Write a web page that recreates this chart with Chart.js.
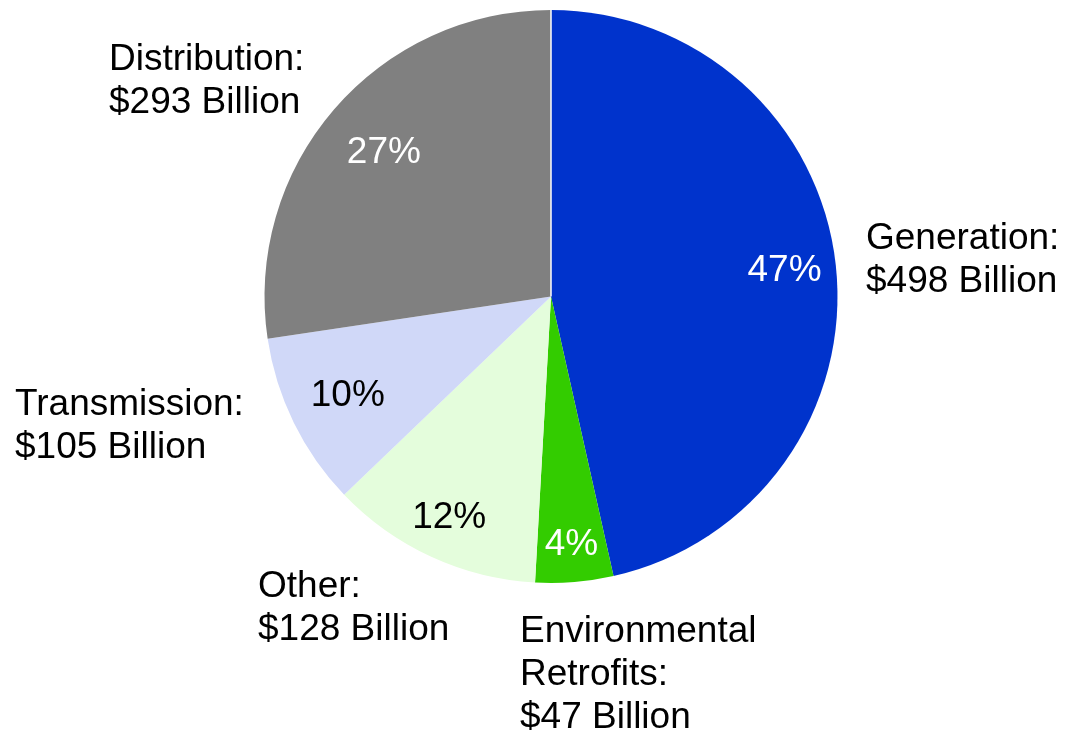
<!DOCTYPE html>
<html>
<head>
<meta charset="utf-8">
<title>Electricity Investment by Segment</title>
<script src="https://cdn.jsdelivr.net/npm/chart.js@4/dist/chart.umd.min.js"></script>
<style>
  html, body { margin: 0; padding: 0; background: #ffffff; }
  #wrap { width: 1067px; height: 737px; position: relative; }
</style>
</head>
<body>
<div id="wrap"><canvas id="pie"></canvas></div>
<script>
// Investment segments, clockwise from 12 o'clock
const segments = ['Generation', 'Environmental Retrofits', 'Other', 'Transmission', 'Distribution'];
const billions = [498, 47, 128, 105, 293];
// Published share of total for each segment, in percent
const sharePct = [47, 4, 12, 10, 27];
const sliceColors = ['#0033CC', '#33CC00', '#E4FDDC', '#D0D8F8', '#808080'];
const pctTextColors = ['#FFFFFF', '#FFFFFF', '#000000', '#000000', '#FFFFFF'];
// Outer caption lines for each segment
const captionLines = [
  ['Generation:', '$498 Billion'],
  ['Environmental', 'Retrofits:', '$47 Billion'],
  ['Other:', '$128 Billion'],
  ['Transmission:', '$105 Billion'],
  ['Distribution:', '$293 Billion']
];

const FONT = '37px "Liberation Sans", Arial, sans-serif';
const LINE_H = 43;

// Where each percentage sits, as a fraction of the radius along the slice's mid angle
const pctRadius = [0.82, 0.87, 0.85, 0.79, 0.77];
// Caption anchors (left x, first baseline y), relative to the pie centre
const captionAnchor = [
  [315, -47.5],
  [-31, 345.5],
  [-293, 300.5],
  [-536, 118.5],
  [-442, -226.5]
];

const labelPlugin = {
  id: 'sliceLabels',
  afterDatasetsDraw(chart) {
    const ctx = chart.ctx;
    const meta = chart.getDatasetMeta(0);
    const first = meta.data[0];
    const cx = first.x, cy = first.y, r = first.outerRadius;

    // hairline seam where the first and last slices meet
    ctx.save();
    ctx.strokeStyle = '#FFFFFF';
    ctx.lineWidth = 1.5;
    ctx.beginPath();
    ctx.moveTo(cx, cy);
    ctx.lineTo(cx + r * Math.cos(first.startAngle), cy + r * Math.sin(first.startAngle));
    ctx.stroke();
    ctx.restore();

    ctx.save();
    ctx.font = FONT;
    meta.data.forEach((arc, i) => {
      const mid = (arc.startAngle + arc.endAngle) / 2;
      const rr = arc.outerRadius * pctRadius[i];
      ctx.fillStyle = pctTextColors[i];
      ctx.textAlign = 'center';
      ctx.textBaseline = 'middle';
      ctx.fillText(sharePct[i] + '%', cx + rr * Math.cos(mid), cy + rr * Math.sin(mid));

      ctx.fillStyle = '#000000';
      ctx.textAlign = 'left';
      ctx.textBaseline = 'alphabetic';
      const [ax, ay] = captionAnchor[i];
      captionLines[i].forEach((line, k) => {
        ctx.fillText(line, cx + ax, cy + ay + k * LINE_H);
      });
    });
    ctx.restore();
  }
};

new Chart(document.getElementById('pie'), {
  type: 'pie',
  data: {
    labels: segments,
    datasets: [{
      data: billions,
      backgroundColor: sliceColors,
      borderWidth: 0
    }]
  },
  options: {
    responsive: true,
    maintainAspectRatio: false,
    animation: false,
    layout: { padding: { left: 264, right: 229, top: 10, bottom: 154 } },
    plugins: {
      legend: { display: false },
      tooltip: { enabled: false }
    }
  },
  plugins: [labelPlugin]
});
</script>
</body>
</html>
